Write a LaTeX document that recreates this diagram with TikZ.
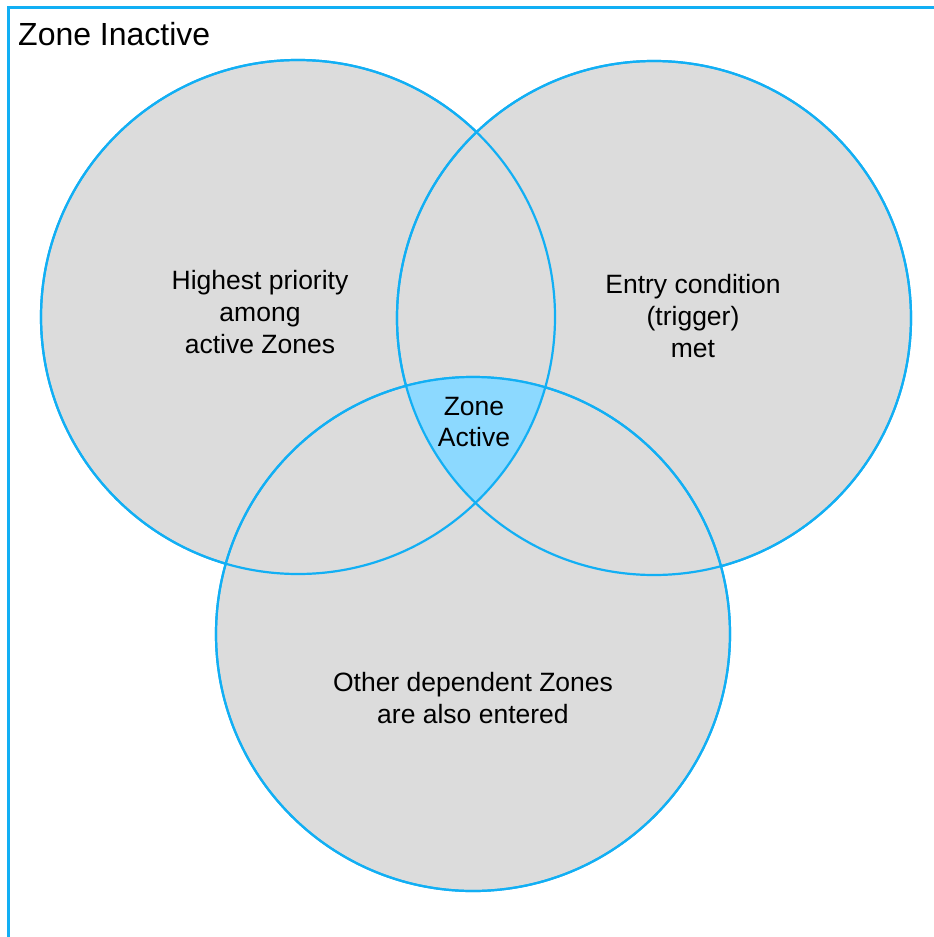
\documentclass[tikz,border=0pt]{standalone}
\usepackage{fontspec}
\setmainfont{Liberation Sans}
\definecolor{zoneline}{HTML}{12AFF4}
\definecolor{zonegray}{HTML}{DCDCDC}
\definecolor{zoneactive}{HTML}{8CD9FF}
\tikzset{
  venn/.style={circle, draw=zoneline, line width=2.2pt, fill=zonegray, minimum size=514pt, inner sep=0pt},
  vennline/.style={circle, draw=zoneline, line width=2.2pt, minimum size=514pt, inner sep=0pt},
  label/.style={align=center, font=\fontsize{26.5}{32}\selectfont, text=black, inner sep=0pt},
}
\begin{document}
\begin{tikzpicture}[x=1pt,y=-1pt]
\useasboundingbox (0,0) rectangle (934,937);
\clip (0,0) rectangle (934,937);
\fill[white] (0,0) rectangle (934,937);
\draw[zoneline, line width=3pt] (8,7) rectangle (960,960);
\node[anchor=base west, font=\fontsize{32}{36}\selectfont, inner sep=0pt] (inactive) at (18,45) {Zone Inactive};
% circle fills
\node[venn] (cL) at (298,317) {};
\node[venn] (cR) at (654,318) {};
\node[venn] (cB) at (473,634) {};
% central intersection
\begin{scope}
  \clip (298,317) circle (257);
  \clip (654,318) circle (257);
  \fill[zoneactive] (473,634) circle (257);
\end{scope}
% outlines on top
\node[vennline] at (cL) {};
\node[vennline] at (cR) {};
\node[vennline] at (cB) {};
% labels
\node[label] (tL) at (260,312) {Highest priority\\among\\ active Zones};
\node[label] (tR) at (693,316) {Entry condition\\(trigger)\\met};
\node[label, font=\fontsize{26.5}{31}\selectfont] (tC) at (474,422) {Zone\\Active};
\node[label] (tB) at (473,698) {Other dependent Zones\\are also entered};
\end{tikzpicture}
\end{document}
